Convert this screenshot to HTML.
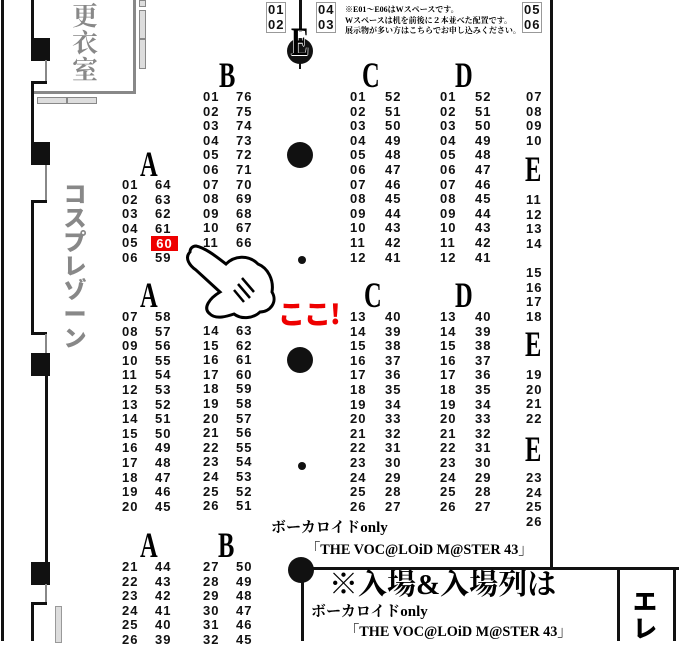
<!DOCTYPE html>
<html><head><meta charset="utf-8"><style>
*{margin:0;padding:0}
body{width:679px;height:641px;overflow:hidden;background:#fff;position:relative;font-family:"Liberation Sans","Noto Sans CJK JP",sans-serif}
.a{position:absolute}
.c{position:absolute;font:bold 13px/14.6px "Liberation Sans",sans-serif;letter-spacing:1px;color:#111;white-space:pre}
.L{position:absolute;font:bold 36px/34px "Liberation Serif",serif;transform:scaleX(.68);transform-origin:left top;color:#000}
.b{position:absolute;background:#111}
.g{position:absolute;background:#ddd;border:1px solid #888}
.s{position:absolute;background:#111;width:19px;height:23px}
.t{position:absolute;font-family:"Liberation Serif","Noto Serif CJK SC",serif;font-weight:bold;color:#000;white-space:nowrap}
</style></head><body>
<div class="b" style="left:1px;top:0;width:3px;height:641px"></div>
<div class="b" style="left:31px;top:0;width:3px;height:40px"></div>
<div class="s" style="left:31px;top:38px"></div>
<div class="a" style="left:45px;top:60px;width:2px;height:22px;background:#888"></div>
<div class="b" style="left:31px;top:81px;width:16px;height:3px"></div>
<div class="b" style="left:31px;top:81px;width:3px;height:62px"></div>
<div class="s" style="left:31px;top:142px"></div>
<div class="a" style="left:45px;top:165px;width:2px;height:36px;background:#888"></div>
<div class="b" style="left:31px;top:200px;width:16px;height:3px"></div>
<div class="b" style="left:31px;top:200px;width:3px;height:134px"></div>
<div class="b" style="left:31px;top:332px;width:16px;height:3px"></div>
<div class="a" style="left:45px;top:334px;width:2px;height:20px;background:#888"></div>
<div class="s" style="left:31px;top:353px"></div>
<div class="b" style="left:45px;top:375px;width:3px;height:188px"></div>
<div class="s" style="left:31px;top:562px"></div>
<div class="a" style="left:45px;top:584px;width:2px;height:19px;background:#888"></div>
<div class="b" style="left:31px;top:602px;width:16px;height:3px"></div>
<div class="b" style="left:31px;top:602px;width:3px;height:39px"></div>
<div class="a" style="left:55px;top:606px;width:5px;height:35px;background:#ddd;border:1px solid #999"></div>
<div class="a" style="left:34px;top:-3px;width:99px;height:91px;border:3px solid #888;border-left:none"></div>
<div class="t" style="left:72px;top:1px;font-size:26px;line-height:27px;color:#888;font-family:'Noto Serif CJK SC',serif;width:30px;white-space:normal">更<br>衣<br>室</div>
<div class="g" style="left:139px;top:0;width:5px;height:5px"></div>
<div class="g" style="left:139px;top:10px;width:5px;height:27px"></div>
<div class="g" style="left:139px;top:39px;width:5px;height:28px"></div>
<div class="g" style="left:37px;top:97px;width:28px;height:5px"></div>
<div class="g" style="left:67px;top:97px;width:28px;height:5px"></div>
<div class="a" style="left:62px;top:180px;width:26px;font:900 23px/24px 'Noto Sans CJK JP',sans-serif;color:#888;text-align:center">コ<br>ス<br>プ<br>レ<br>ゾ<br>ー<br>ン</div>
<div class="b" style="left:550px;top:0;width:3px;height:570px"></div>
<div class="b" style="left:299px;top:0;width:3px;height:32px"></div>
<div class="a" style="left:287px;top:38px;width:26px;height:26px;border-radius:50%;background:#111"></div>
<div class="b" style="left:299px;top:60px;width:2px;height:9px"></div>
<div class="L" style="left:291px;top:25px;font-size:40px;text-shadow:1px 0 #fff,-1px 0 #fff,0 1px #fff">E</div>
<div class="c" style="left:266px;top:2px;border:1px solid #999;padding:0 1px">01
02</div>
<div class="c" style="left:316px;top:2px;border:1px solid #999;padding:0 1px">04
03</div>
<div class="c" style="left:522px;top:2px;border:1px solid #999;padding:0 1px">05
06</div>
<div class="t" style="left:345px;top:5px;font-size:8px;line-height:10.5px">※E01～E06はWスペースです。<br>Wスペースは机を前後に２本並べた配置です。<br>展示物が多い方はこちらでお申し込みください。</div>
<div class="L" style="left:219px;top:58px">B</div>
<div class="L" style="left:362px;top:58px">C</div>
<div class="L" style="left:455px;top:58px">D</div>
<div class="L" style="left:140px;top:147px">A</div>
<div class="L" style="left:525px;top:152px">E</div>
<div class="L" style="left:140px;top:278px">A</div>
<div class="L" style="left:364px;top:278px">C</div>
<div class="L" style="left:455px;top:278px">D</div>
<div class="L" style="left:525px;top:327px">E</div>
<div class="L" style="left:525px;top:432px">E</div>
<div class="L" style="left:140px;top:528px">A</div>
<div class="L" style="left:218px;top:528px">B</div>
<div class="a" style="left:287px;top:142px;width:26px;height:26px;border-radius:50%;background:#111"></div>
<div class="a" style="left:287px;top:347px;width:26px;height:26px;border-radius:50%;background:#111"></div>
<div class="a" style="left:298px;top:256px;width:8px;height:8px;border-radius:50%;background:#111"></div>
<div class="a" style="left:298px;top:462px;width:8px;height:8px;border-radius:50%;background:#111"></div>
<div class="c" style="left:122px;top:178px">01
02
03
04
05
06</div>
<div class="c" style="left:155px;top:178px">64
63
62
61

59</div>
<div class="a" style="left:151px;top:236px;width:27px;height:15px;background:#e00;color:#fff;font:bold 13px/15px 'Liberation Sans',sans-serif;letter-spacing:1px;text-align:center">60</div>
<div class="c" style="left:203px;top:90px">01
02
03
04
05
06
07
08
09
10
11</div>
<div class="c" style="left:236px;top:90px">76
75
74
73
72
71
70
69
68
67
66</div>
<div class="c" style="left:350px;top:90px">01
02
03
04
05
06
07
08
09
10
11
12</div>
<div class="c" style="left:385px;top:90px">52
51
50
49
48
47
46
45
44
43
42
41</div>
<div class="c" style="left:440px;top:90px">01
02
03
04
05
06
07
08
09
10
11
12</div>
<div class="c" style="left:475px;top:90px">52
51
50
49
48
47
46
45
44
43
42
41</div>
<div class="c" style="left:526px;top:90px">07
08
09
10</div>
<div class="c" style="left:526px;top:193px">11
12
13
14</div>
<div class="c" style="left:526px;top:266px">15
16
17
18</div>
<div class="c" style="left:526px;top:368px">19
20
21
22</div>
<div class="c" style="left:526px;top:471px">23
24
25
26</div>
<div class="c" style="left:122px;top:310px">07
08
09
10
11
12
13
14
15
16
17
18
19
20</div>
<div class="c" style="left:155px;top:310px">58
57
56
55
54
53
52
51
50
49
48
47
46
45</div>
<div class="c" style="left:203px;top:324px">14
15
16
17
18
19
20
21
22
23
24
25
26</div>
<div class="c" style="left:236px;top:324px">63
62
61
60
59
58
57
56
55
54
53
52
51</div>
<div class="c" style="left:350px;top:310px">13
14
15
16
17
18
19
20
21
22
23
24
25
26</div>
<div class="c" style="left:385px;top:310px">40
39
38
37
36
35
34
33
32
31
30
29
28
27</div>
<div class="c" style="left:440px;top:310px">13
14
15
16
17
18
19
20
21
22
23
24
25
26</div>
<div class="c" style="left:475px;top:310px">40
39
38
37
36
35
34
33
32
31
30
29
28
27</div>
<div class="c" style="left:122px;top:560px">21
22
23
24
25
26</div>
<div class="c" style="left:155px;top:560px">44
43
42
41
40
39</div>
<div class="c" style="left:203px;top:560px">27
28
29
30
31
32</div>
<div class="c" style="left:236px;top:560px">50
49
48
47
46
45</div>
<svg class="a" style="left:182px;top:240px" width="100" height="92" viewBox="0 0 100 92">
<path d="M8 12 C2 18 8 26 14 30 L38 52 C28 58 20 68 28 74 C34 80 46 76 52 74 C60 80 72 78 78 72 C88 72 96 62 90 52 C92 40 86 28 76 24 C66 14 52 16 44 24 C36 18 24 8 14 6 C10 6 8 9 8 12 Z" fill="#fff" stroke="#000" stroke-width="3"/>
<path d="M60 38 L72 52 M56 44 L68 58 M52 50 L62 62" stroke="#000" stroke-width="2.5" fill="none"/>
</svg>
<div class="a" style="left:278px;top:296px;font:900 27px/34px 'Noto Sans CJK JP',sans-serif;color:#e00;letter-spacing:-1px">ここ!</div>
<div class="t" style="left:271px;top:519px;font-size:15px;line-height:18px">ボーカロイドonly</div>
<div class="t" style="left:306px;top:541px;font-size:15px;line-height:18px;transform:scaleX(.95);transform-origin:left">「THE VOC@LOiD M@STER 43」</div>
<div class="b" style="left:301px;top:567px;width:378px;height:3px"></div>
<div class="a" style="left:288px;top:557px;width:26px;height:26px;border-radius:50%;background:#111"></div>
<div class="b" style="left:301px;top:570px;width:3px;height:71px"></div>
<div class="b" style="left:617px;top:570px;width:3px;height:71px"></div>
<div class="b" style="left:673px;top:570px;width:3px;height:71px"></div>
<div class="t" style="left:329px;top:568px;font-size:29px;line-height:34px">※入場&amp;入場列は</div>
<div class="t" style="left:311px;top:603px;font-size:15px;line-height:18px">ボーカロイドonly</div>
<div class="t" style="left:345px;top:623px;font-size:15px;line-height:18px;transform:scaleX(.95);transform-origin:left">「THE VOC@LOiD M@STER 43」</div>
<div class="a" style="left:633px;top:586px;font:900 24px/27px 'Noto Sans CJK JP',sans-serif;color:#000">エ<br>レ</div>
</body></html>
